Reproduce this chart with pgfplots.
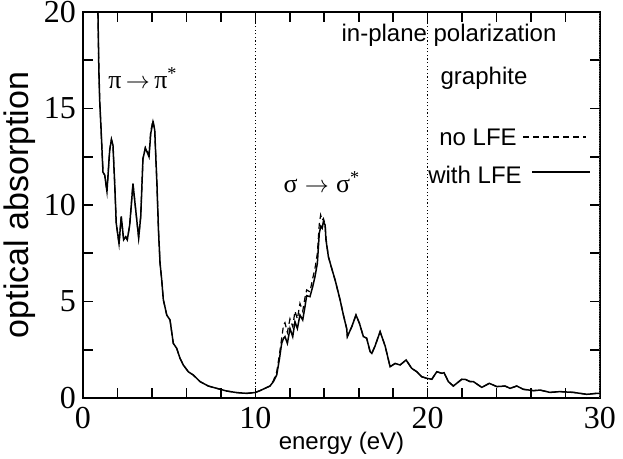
\documentclass[border=0pt]{standalone}
\usepackage{pgfplots}
\pgfplotsset{compat=1.18}
\usepackage{fontspec}
\setmainfont{Liberation Sans}
\newfontfamily\serif{Liberation Serif}
\begin{document}
\begin{tikzpicture}
\begin{axis}[
  name=ax,
  at={(0,0)}, anchor=south west,
  width=258.5pt, height=193pt, scale only axis,
  xmin=0, xmax=30, ymin=0, ymax=20,
  xtick={0,10,20,30}, ytick={0,5,10,15,20},
  minor x tick num=4, minor y tick num=1,
  xtick pos=both, ytick pos=both,
  tick align=inside,
  major tick length=5pt, minor tick length=5pt,
  tick style={black, line width=0.8pt},
  axis line style={line width=1pt},
  ticklabel style={font=\serif\fontsize{16}{18}\selectfont},
  /pgf/number format/assume math mode=true,
  xticklabel style={yshift=-1pt},
  clip=true,
]
% tick segments along the frame (one path, broken at nan)
\addplot[black, line width=0.8pt, unbounded coords=jump] coordinates {
(2,0) (2,0.5) (2,nan) (4,0) (4,0.5) (4,nan) (6,0) (6,0.5) (6,nan) (8,0) (8,0.5) (8,nan)
(10,0) (10,0.5) (10,nan) (12,0) (12,0.5) (12,nan) (14,0) (14,0.5) (14,nan)
(16,0) (16,0.5) (16,nan) (18,0) (18,0.5) (18,nan) (20,0) (20,0.5) (20,nan)
(22,0) (22,0.5) (22,nan) (24,0) (24,0.5) (24,nan) (26,0) (26,0.5) (26,nan)
(28,0) (28,0.5) (28,nan)
(2,20) (2,19.5) (2,nan) (4,20) (4,19.5) (4,nan) (6,20) (6,19.5) (6,nan) (8,20) (8,19.5) (8,nan)
(10,20) (10,19.5) (10,nan) (12,20) (12,19.5) (12,nan) (14,20) (14,19.5) (14,nan)
(16,20) (16,19.5) (16,nan) (18,20) (18,19.5) (18,nan) (20,20) (20,19.5) (20,nan)
(22,20) (22,19.5) (22,nan) (24,20) (24,19.5) (24,nan) (26,20) (26,19.5) (26,nan)
(28,20) (28,19.5) (28,nan)
(0,2.5) (0.55,2.5) (nan,2.5) (0,5) (0.55,5) (nan,5) (0,7.5) (0.55,7.5) (nan,7.5)
(0,10) (0.55,10) (nan,10) (0,12.5) (0.55,12.5) (nan,12.5) (0,15) (0.55,15) (nan,15)
(0,17.5) (0.55,17.5) (nan,17.5)
(30,2.5) (29.45,2.5) (nan,2.5) (30,5) (29.45,5) (nan,5) (30,7.5) (29.45,7.5) (nan,7.5)
(30,10) (29.45,10) (nan,10) (30,12.5) (29.45,12.5) (nan,12.5) (30,15) (29.45,15) (nan,15)
(30,17.5) (29.45,17.5)
};
% dotted guides
\addplot[black, line width=0.6pt, dash pattern=on 0.6pt off 1.2pt] coordinates {(10,0) (10,20)};
\addplot[black, line width=0.6pt, dash pattern=on 0.6pt off 1.2pt] coordinates {(20,0) (20,20)};
\addplot[black!70, line width=0.8pt, dash pattern=on 0.6pt off 0.6pt] coordinates {(30,0) (30,20)};
% no LFE (dashed)
\addplot[black, line width=0.6pt, dash pattern=on 3pt off 2pt] coordinates {
(0.85,21) (0.92,17) (0.97,15.4) (1.06,13.7) (1.16,11.7) (1.26,11.55) (1.39,10.7)
(1.55,12.85) (1.65,13.4) (1.74,13.1) (1.84,11.1) (1.93,9.05) (2.09,8.0) (2.22,9.4)
(2.36,8.2) (2.48,8.35) (2.57,8.2) (2.71,8.96) (2.9,11.1) (3.06,9.74) (3.23,8.3)
(3.35,9.4) (3.48,12.4) (3.62,13.0) (3.71,12.9) (3.83,12.6) (3.93,13.8) (4.06,14.4)
(4.16,13.9) (4.29,11.1) (4.38,8.7) (4.47,7.0) (4.57,6.1) (4.66,5.1) (4.86,4.3)
(5.05,4.04) (5.24,2.83) (5.44,2.57) (5.63,2.06) (5.82,1.71) (6.11,1.36) (6.4,1.19)
(6.79,0.85) (7.27,0.62) (7.76,0.5) (8.34,0.36) (8.92,0.28) (9.5,0.24) (9.98,0.28)
(10.27,0.38) (10.56,0.5) (10.85,0.62) (11.05,0.9) (11.24,1.35) (11.39,2.2)
(11.53,3.1) (11.64,3.8) (11.72,3.9) (11.86,3.4) (12.01,4.1) (12.17,3.7) (12.3,4.5)
(12.44,4.1) (12.59,4.9) (12.75,4.5) (12.88,5.2) (12.98,5.6) (13.17,5.5) (13.33,6.2)
(13.46,6.7) (13.6,7.5) (13.71,9.0) (13.79,9.48) (13.88,9.2) (13.95,9.3) (14.05,9.0)
(14.1,8.3) (14.24,7.32) (14.43,6.72) (14.63,6.11) (14.92,5.08) (15.11,4.3) (15.3,3.6)
(15.34,3.18) (15.6,3.7) (15.84,4.3) (16.04,3.87) (16.27,3.18) (16.46,3.1) (16.66,2.4)
(16.76,2.31) (16.95,2.7) (17.24,3.44) (17.53,2.7) (17.82,1.62) (18.11,1.79) (18.4,1.71)
(18.75,1.97) (19.07,1.54) (19.37,1.36) (19.66,1.1) (19.95,1.02) (20.24,0.97)
(20.53,1.36) (20.82,1.28) (20.95,1.31) (21.2,0.85) (21.49,0.62) (21.98,0.97)
(22.17,0.97) (22.46,0.85) (22.65,0.85) (23.14,0.55) (23.58,0.76) (24.01,0.59)
(24.49,0.62) (24.78,0.5) (25.17,0.62) (25.55,0.45) (26.14,0.38) (26.52,0.41)
(27.1,0.29) (27.68,0.33) (28.46,0.29) (29.23,0.19) (29.81,0.24) (30,0.24)
};
% with LFE (solid)
\addplot[black, line width=0.75pt] coordinates {
(0.85,21) (0.92,17) (0.97,15.4) (1.06,13.7) (1.16,11.7) (1.26,11.55) (1.39,10.7)
(1.55,12.85) (1.65,13.4) (1.74,13.1) (1.84,11.1) (1.93,9.05) (2.09,8.0) (2.22,9.4)
(2.36,8.2) (2.48,8.35) (2.57,8.2) (2.71,8.96) (2.9,11.1) (3.06,9.74) (3.23,8.3)
(3.35,9.4) (3.48,12.4) (3.62,12.95) (3.71,12.76) (3.83,12.5) (3.93,13.7) (4.06,14.3)
(4.16,13.9) (4.29,11.1) (4.38,8.7) (4.47,7.0) (4.57,6.1) (4.66,5.1) (4.86,4.3)
(5.05,4.04) (5.24,2.83) (5.44,2.57) (5.63,2.06) (5.82,1.71) (6.11,1.36) (6.4,1.19)
(6.79,0.85) (7.27,0.62) (7.76,0.5) (8.34,0.36) (8.92,0.28) (9.5,0.24) (9.98,0.28)
(10.27,0.38) (10.56,0.5) (10.85,0.62) (11.05,0.85) (11.24,1.19) (11.39,1.97)
(11.53,2.83) (11.64,3.1) (11.72,3.18) (11.86,2.83) (12.01,3.6) (12.17,3.18) (12.3,3.95)
(12.44,3.6) (12.59,4.3) (12.75,4.04) (12.88,4.73) (12.98,5.3) (13.17,5.25) (13.33,5.77)
(13.46,6.28) (13.6,6.98) (13.71,8.53) (13.8,8.9) (13.88,8.8) (13.95,9.14) (14.05,8.96)
(14.1,8.19) (14.24,7.32) (14.43,6.72) (14.63,6.11) (14.92,5.08) (15.11,4.3) (15.3,3.6)
(15.34,3.18) (15.6,3.7) (15.84,4.3) (16.04,3.87) (16.27,3.18) (16.46,3.1) (16.66,2.4)
(16.76,2.31) (16.95,2.7) (17.24,3.44) (17.53,2.7) (17.82,1.62) (18.11,1.79) (18.4,1.71)
(18.75,1.97) (19.07,1.54) (19.37,1.36) (19.66,1.1) (19.95,1.02) (20.24,0.97)
(20.53,1.36) (20.82,1.28) (20.95,1.31) (21.2,0.85) (21.49,0.62) (21.98,0.97)
(22.17,0.97) (22.46,0.85) (22.65,0.85) (23.14,0.55) (23.58,0.76) (24.01,0.59)
(24.49,0.62) (24.78,0.5) (25.17,0.62) (25.55,0.45) (26.14,0.38) (26.52,0.41)
(27.1,0.29) (27.68,0.33) (28.46,0.29) (29.23,0.19) (29.81,0.24) (30,0.24)
};
% legend samples
\draw[black, line width=0.6pt, dash pattern=on 3pt off 2pt] (axis cs:25.54,13.52) -- (axis cs:29.19,13.52);
\draw[black, line width=0.75pt] (axis cs:26.06,11.71) -- (axis cs:29.43,11.71);
% texts
\node[font=\fontsize{12}{14}\selectfont] at (axis cs:21.24,18.81) {in-plane polarization};
\node[font=\fontsize{12}{14}\selectfont] at (axis cs:23.27,16.58) {graphite};
\node[font=\fontsize{12}{14}\selectfont, anchor=east, inner sep=0pt] at (axis cs:25.19,13.52) {no LFE};
\node[font=\fontsize{12}{14}\selectfont, anchor=east, inner sep=0pt] at (axis cs:25.48,11.55) {with LFE};
\node[font=\serif\fontsize{13}{15}\selectfont] at (axis cs:3.48,16.58) {π\,$\rightarrow$\,π\textsuperscript{*}};
\node[font=\serif\fontsize{13}{15}\selectfont] at (axis cs:13.87,11.2) {σ\;$\rightarrow$\;σ\textsuperscript{*}};
\end{axis}
\node[rotate=90, font=\fontsize{17}{19}\selectfont] at ([xshift=-31.5pt]ax.west) {optical absorption};
\node[font=\fontsize{12}{14}\selectfont] at ([yshift=-22.5pt]ax.south) {energy (eV)};
\pgfresetboundingbox
\path[use as bounding box] (-41.5pt,-30.5pt) rectangle (270pt,199pt);
\end{tikzpicture}
\end{document}
